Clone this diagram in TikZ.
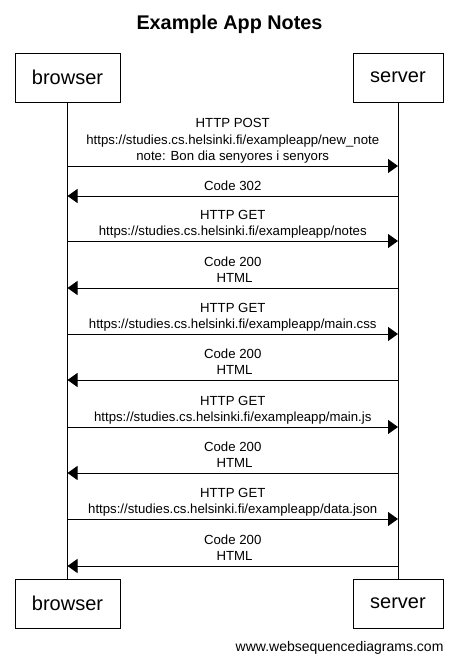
\documentclass[tikz,border=0pt]{standalone}
\usepackage{fontspec}
\setmainfont{Liberation Sans}
\usetikzlibrary{arrows.meta}

\tikzset{
  actor/.style={draw, line width=1pt, minimum height=49pt, inner sep=0pt,
    font=\fontsize{20}{24}\selectfont},
  life/.style={line width=1pt},
  msg/.style={line width=1pt, -{Triangle[length=10pt,width=14pt]}},
  lbl/.style={anchor=south, align=center, inner sep=0pt, text depth=5pt,
    font=\fontsize{13.2}{16.5}\selectfont}
}

\begin{document}
\begin{tikzpicture}[x=1pt,y=-1pt]
  \useasboundingbox (0,0) rectangle (458,662);

  \node (title) [anchor=base, font=\bfseries\fontsize{19.8}{23}\selectfont] at (229.5,29) {Example App Notes};

  \node (B1) [actor, minimum width=105pt] at (67.5,77.5) {browser};
  \node (S1) [actor, minimum width=90pt] at (398,77.5) {server};
  \node (B2) [actor, minimum width=105pt] at (67.5,603.5) {browser};
  \node (S2) [actor, minimum width=90pt] at (398,603.5) {server};

  \draw[life] (B1) -- (B2);
  \draw[life] (S1) -- (S2);

  % message heights on the lifelines
  \foreach \i/\y in {1/166,2/196,3/241,4/288,5/334,6/380,7/427,8/473,9/519,10/566} {
    \coordinate (b\i) at (B1.south |- 0,\y);
    \coordinate (s\i) at (S1.south |- 0,\y);
  }

  \draw[msg] (b1) -- node[lbl] {HTTP POST\\https://studies.cs.helsinki.fi/exampleapp/new\_note\\note: Bon dia senyores i senyors} (s1);
  \draw[msg] (s2) -- node[lbl] {Code 302} (b2);
  \draw[msg] (b3) -- node[lbl] {HTTP GET\\https://studies.cs.helsinki.fi/exampleapp/notes} (s3);
  \draw[msg] (s4) -- node[lbl] {Code 200\\~HTML} (b4);
  \draw[msg] (b5) -- node[lbl] {HTTP GET\\https://studies.cs.helsinki.fi/exampleapp/main.css} (s5);
  \draw[msg] (s6) -- node[lbl] {Code 200\\~HTML} (b6);
  \draw[msg] (b7) -- node[lbl] {HTTP GET\\https://studies.cs.helsinki.fi/exampleapp/main.js} (s7);
  \draw[msg] (s8) -- node[lbl] {Code 200\\~HTML} (b8);
  \draw[msg] (b9) -- node[lbl] {HTTP GET\\https://studies.cs.helsinki.fi/exampleapp/data.json} (s9);
  \draw[msg] (s10) -- node[lbl] {Code 200\\~HTML} (b10);

  \node (credit) [anchor=base east, font=\fontsize{14}{17}\selectfont] at (447,651) {www.websequencediagrams.com};
\end{tikzpicture}
\end{document}
